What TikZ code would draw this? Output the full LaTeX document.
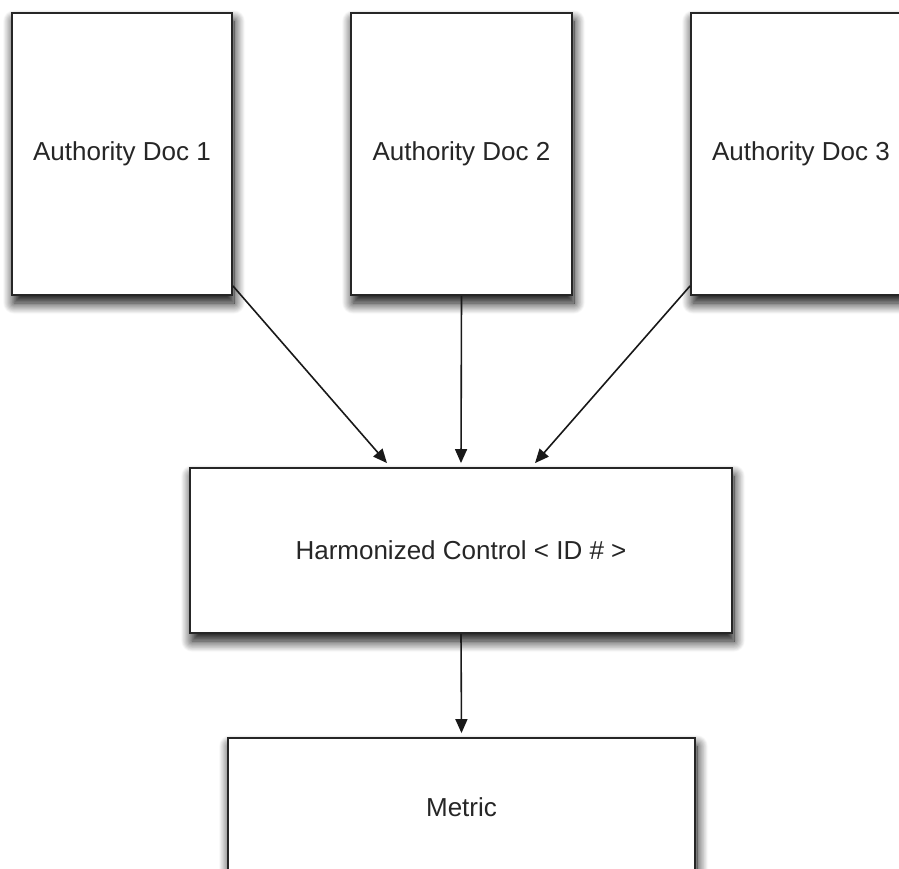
\documentclass[tikz,border=0pt]{standalone}
\usepackage{fontspec}
\setmainfont{Liberation Sans}
\usetikzlibrary{arrows.meta,shadows.blur,calc}
\tikzset{
  docbox/.style={draw=black!85, line width=1.8pt, fill=white, inner sep=0pt,
    font=\fontsize{26}{30}\selectfont, text=black!85,
    blur shadow={shadow xshift=2pt, shadow yshift=-8pt, shadow blur radius=11pt, shadow blur steps=16, shadow opacity=100}},
  conn/.style={line width=1.6pt, draw=black!90, -{Triangle[length=14pt,width=12pt]}}
}
\begin{document}
\begin{tikzpicture}[x=1pt,y=-1pt]
\useasboundingbox (0,0) rectangle (899,869);
\node[docbox, minimum width=220pt, minimum height=282pt] (d1) at (122,154) {Authority Doc 1};
\node[docbox, minimum width=221pt, minimum height=282pt] (d2) at (461.5,154) {Authority Doc 2};
\node[docbox, minimum width=220pt, minimum height=282pt] (d3) at (801,154) {Authority Doc 3};
\node[docbox, minimum width=542pt, minimum height=165pt] (hc) at (461,550.5) {Harmonized Control < ID \# >};
\node[docbox, minimum width=467pt, minimum height=138pt] (m) at (461.5,807) {Metric};
\draw[conn] ([yshift=10pt]d1.south east) -- ([xshift=-74pt,yshift=4pt]hc.north);
\draw[conn] (d2.south) -- ([yshift=4pt]hc.north);
\draw[conn] ([yshift=10pt]d3.south west) -- ([xshift=74pt,yshift=4pt]hc.north);
\draw[conn] (hc.south) -- ([yshift=4pt]m.north);
\end{tikzpicture}
\end{document}
